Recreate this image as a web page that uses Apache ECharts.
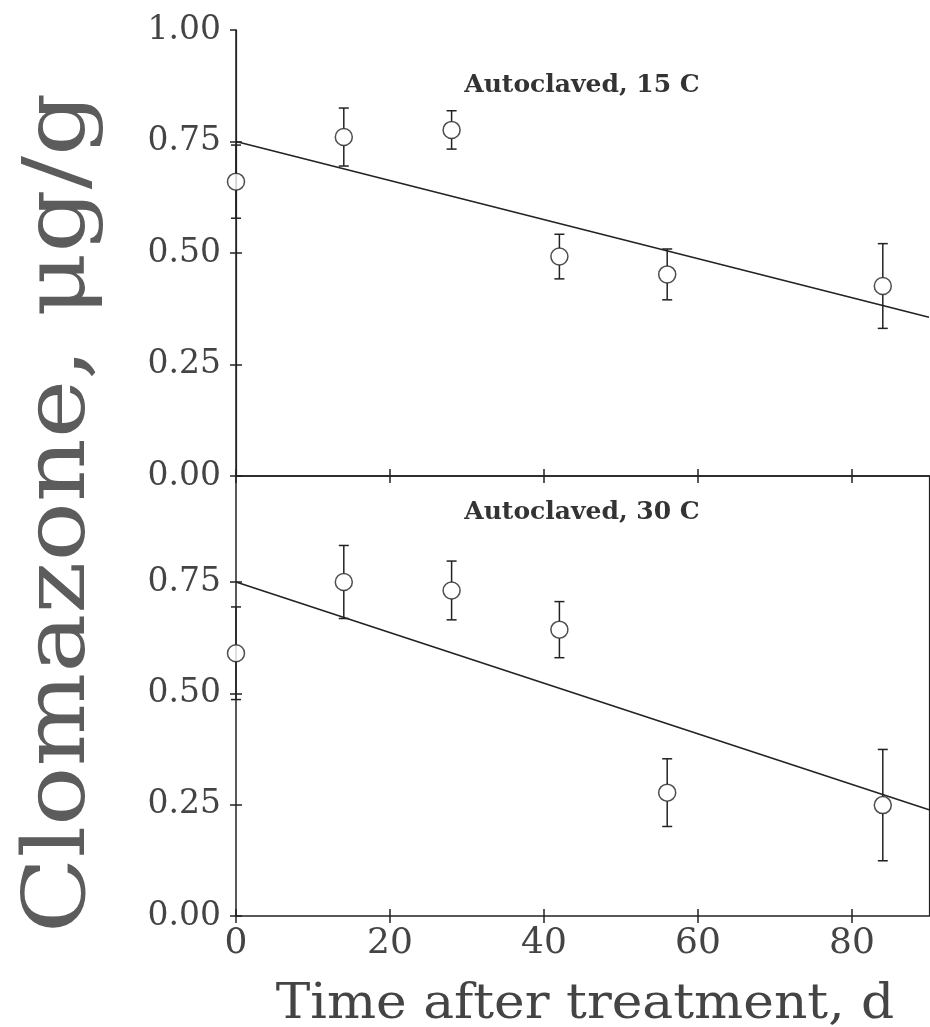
<!DOCTYPE html>
<html>
<head>
<meta charset="utf-8">
<script src="https://cdn.jsdelivr.net/npm/echarts@6/dist/echarts.min.js"></script>
<style>
  html, body { margin: 0; padding: 0; background: #fff; }
  #chart { width: 930px; height: 1027px; }
</style>
</head>
<body>
<div id="chart"></div>
<script>
// Sampling days after treatment
const days = [0, 14, 28, 42, 56, 84];

// Autoclaved soil, 15 C: mean clomazone (µg/g) and standard error
const mean15 = [0.660, 0.760, 0.776, 0.492, 0.452, 0.426];
const err15  = [0.082, 0.065, 0.043, 0.050, 0.057, 0.095];

// Autoclaved soil, 30 C
const mean30 = [0.590, 0.750, 0.731, 0.643, 0.277, 0.249];
const err30  = [0.104, 0.082, 0.066, 0.063, 0.076, 0.125];

// Linear fits [intercept, slope per day]
const fit15 = [0.750, -0.00438];
const fit30 = [0.750, -0.00568];

// Axis ticks
const xTicks = [0, 20, 40, 60, 80];
const yTicksTop = [0, 0.25, 0.5, 0.75, 1.0];
const yTicksBottom = [0, 0.25, 0.5, 0.75];
const xRange = [0, 90];

const panelTitles = ['Autoclaved, 15 C', 'Autoclaved, 30 C'];
const xTitle = 'Time after treatment, d';
const yTitle = 'Clomazone, \u03bcg/g';

const INK = '#222';
const TEXT = '#444';
const SERIF = '"DejaVu Serif", "Liberation Serif", serif';

const chart = echarts.init(document.getElementById('chart'), null, { renderer: 'canvas' });

function fitLine(fit) {
  return xRange.map(x => [x, fit[0] + fit[1] * x]);
}
function errData(means, errs) {
  return days.map((d, i) => [d, means[i], means[i] - errs[i], means[i] + errs[i]]);
}
function pts(means) {
  return days.map((d, i) => [d, means[i]]);
}

const R = 8.5; // marker radius in px
function renderErr(params, api) {
  const x = api.value(0);
  const c = api.coord([x, api.value(1)]);
  const lo = api.coord([x, api.value(2)]);
  const hi = api.coord([x, api.value(3)]);
  const cap = 5;
  const st = { stroke: INK, lineWidth: 1.5, fill: null };
  return {
    type: 'group',
    children: [
      { type: 'line', shape: { x1: hi[0], y1: hi[1], x2: c[0], y2: c[1] - R }, style: st },
      { type: 'line', shape: { x1: lo[0], y1: lo[1], x2: c[0], y2: c[1] + R }, style: st },
      { type: 'line', shape: { x1: hi[0] - cap, y1: hi[1], x2: hi[0] + cap, y2: hi[1] }, style: st },
      { type: 'line', shape: { x1: lo[0] - cap, y1: lo[1], x2: lo[0] + cap, y2: lo[1] }, style: st }
    ]
  };
}

function xAxes(gridIndex, withLabels) {
  const base = {
    gridIndex, type: 'value', min: xRange[0], max: xRange[1], interval: 20,
    splitLine: { show: false }
  };
  return [
    Object.assign({}, base, {
      position: 'bottom',
      axisLine: { show: true, lineStyle: { color: INK, width: 1.5 } },
      axisTick: { show: true, inside: false, length: 7, customValues: xTicks, lineStyle: { color: INK, width: 1.5 } },
      axisLabel: {
        show: withLabels, customValues: xTicks, margin: 10,
        fontFamily: SERIF, fontSize: 36, color: TEXT,
        formatter: v => (xTicks.indexOf(v) >= 0 ? String(v) : '')
      }
    }),
    Object.assign({}, base, {
      position: 'bottom',
      axisLine: { show: false },
      axisTick: { show: true, inside: true, length: 7, customValues: xTicks, lineStyle: { color: INK, width: 1.5 } },
      axisLabel: { show: false }
    })
  ];
}

function yAxes(gridIndex, max, ticks) {
  const base = {
    gridIndex, type: 'value', min: 0, max, interval: 0.25,
    splitLine: { show: false }
  };
  return [
    Object.assign({}, base, {
      position: 'left',
      axisLine: { show: true, lineStyle: { color: INK, width: 1.5 } },
      axisTick: { show: true, inside: false, length: 6, customValues: ticks, lineStyle: { color: INK, width: 1.5 } },
      axisLabel: {
        show: true, customValues: ticks, margin: 15,
        fontFamily: SERIF, fontSize: 33, color: TEXT,
        formatter: v => v.toFixed(2)
      }
    }),
    Object.assign({}, base, {
      position: 'left',
      axisLine: { show: false },
      axisTick: { show: true, inside: true, length: 6, customValues: ticks.filter(t => t < 1), lineStyle: { color: INK, width: 1.5 } },
      axisLabel: { show: false }
    }),
    Object.assign({}, base, {
      position: 'right',
      axisLine: { show: true, lineStyle: { color: INK, width: 1.2 } },
      axisTick: { show: false },
      axisLabel: { show: false }
    })
  ];
}

const xAxis = [
  ...xAxes(0, false),
  { gridIndex: 0, type: 'value', min: xRange[0], max: xRange[1], position: 'top',
    axisLine: { show: true, lineStyle: { color: INK, width: 1.5 } },
    axisTick: { show: false }, axisLabel: { show: false }, splitLine: { show: false } },
  ...xAxes(1, true)
];
// indices: 0,1 top grid bottom; 2 top grid top; 3,4 bottom grid

const yAxis = [
  ...yAxes(0, 1.0, yTicksTop),
  ...yAxes(1, 0.988, yTicksBottom)
];
// indices: 0..2 top grid, 3..5 bottom grid

function panelSeries(xi, yi, means, errs, fit) {
  return [
    {
      type: 'line', xAxisIndex: xi, yAxisIndex: yi, data: fitLine(fit),
      symbol: 'none', lineStyle: { color: INK, width: 1.6 }, z: 2, silent: true
    },
    {
      type: 'custom', xAxisIndex: xi, yAxisIndex: yi, data: errData(means, errs),
      renderItem: renderErr, encode: { x: 0, y: [1, 2, 3] }, clip: false, z: 3, silent: true
    },
    {
      type: 'scatter', xAxisIndex: xi, yAxisIndex: yi, data: pts(means),
      symbol: 'circle', symbolSize: 2 * R,
      itemStyle: { color: '#fff', borderColor: INK, borderWidth: 1.5 },
      clip: false, z: 4, silent: true
    }
  ];
}

const option = {
  backgroundColor: '#fff',
  animation: false,
  grid: [
    { left: 236, top: 30, width: 693, height: 446 },
    { left: 236, top: 476, width: 693, height: 440 }
  ],
  xAxis,
  yAxis,
  series: [
    ...panelSeries(0, 0, mean15, err15, fit15),
    ...panelSeries(3, 3, mean30, err30, fit30)
  ],
  graphic: [
    {
      type: 'text', x: 582, y: 85, z: 10,
      style: { text: panelTitles[0], font: 'bold 25px ' + SERIF, fill: '#333', align: 'center', verticalAlign: 'middle' }
    },
    {
      type: 'text', x: 582, y: 512, z: 10,
      style: { text: panelTitles[1], font: 'bold 25px ' + SERIF, fill: '#333', align: 'center', verticalAlign: 'middle' }
    },
    {
      type: 'text', x: 585, y: 1006, scaleX: 1.08, z: 10,
      style: { text: xTitle, font: '48px ' + SERIF, fill: TEXT, align: 'center', verticalAlign: 'middle' }
    },
    {
      type: 'text', x: 62, y: 513, rotation: Math.PI / 2, scaleX: 1.15, z: 10,
      style: { text: yTitle, font: '86px ' + SERIF, fill: '#5c5c5c', align: 'center', verticalAlign: 'middle' }
    }
  ]
};

chart.setOption(option);
</script>
</body>
</html>
